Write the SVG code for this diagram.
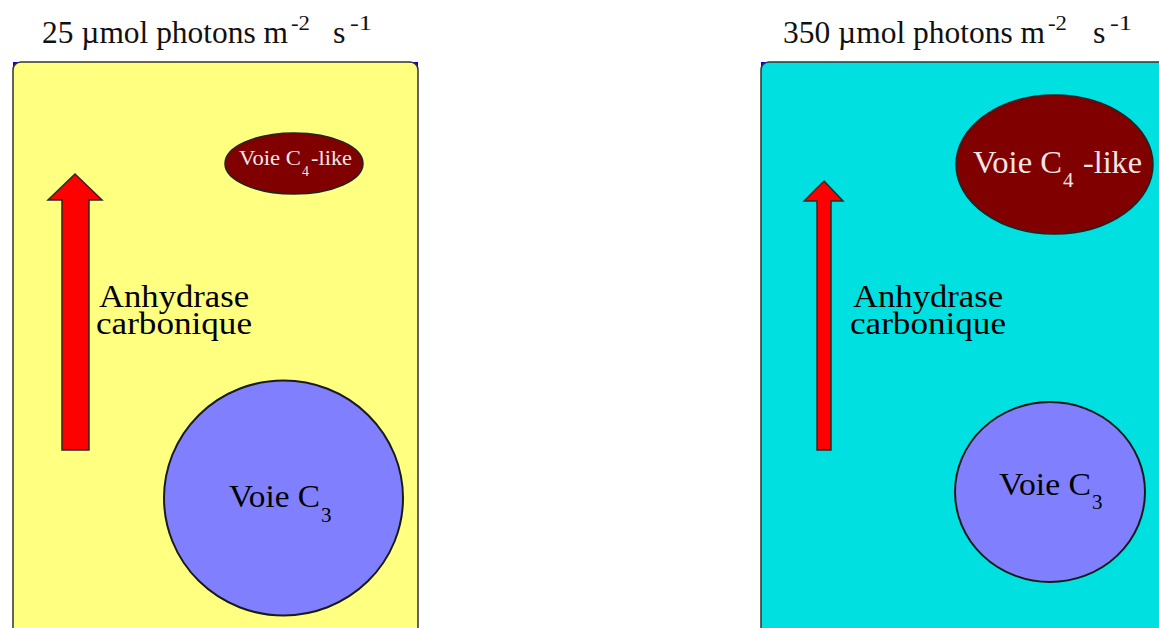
<svg xmlns="http://www.w3.org/2000/svg" width="1159" height="628" viewBox="0 0 1159 628">
<style>
  text { font-family: "Liberation Serif", Tinos, "Times New Roman", "DejaVu Serif", "Noto Serif", FreeSerif, "Nimbus Roman", serif; }
  .title { font-size: 32px; fill: #111; }
  .sup { font-size: 20px; fill: #111; }
  .lbl { font-size: 31px; fill: #000; text-anchor: middle; }
  .c3 { font-size: 32px; fill: #000; }
  .c3s { font-size: 21px; fill: #000; }
  .c4 { fill: #F2E6E6; }
  .panel { stroke: #333; stroke-width: 1.5; }
  .corner { fill: #0000FF; }
  .arrow { fill: #FF0000; stroke: #2a2a2a; stroke-width: 1.5; stroke-linejoin: miter; }
  .c4e { fill: #800000; stroke: #222; stroke-width: 1.5; }
  .c3e { fill: #8080FF; stroke: #1a1a1a; stroke-width: 2; }
</style>
<rect width="1159" height="628" fill="#FFFFFF"/>

<g id="title-left">
  <text class="title" x="42" y="43" textLength="246" lengthAdjust="spacingAndGlyphs">25 µmol photons m</text>
  <text class="sup" x="291" y="30" textLength="19" lengthAdjust="spacingAndGlyphs">-2</text>
  <text class="title" x="333" y="43">s</text>
  <text class="sup" x="350" y="30" textLength="22" lengthAdjust="spacingAndGlyphs">-1</text>
</g>
<g id="title-right">
  <text class="title" x="783" y="43" textLength="262" lengthAdjust="spacingAndGlyphs">350 µmol photons m</text>
  <text class="sup" x="1048" y="30" textLength="19" lengthAdjust="spacingAndGlyphs">-2</text>
  <text class="title" x="1093" y="43">s</text>
  <text class="sup" x="1110" y="30" textLength="22" lengthAdjust="spacingAndGlyphs">-1</text>
</g>

<g id="panel-left">
  <rect class="corner" x="13" y="62" width="405" height="580"/>
  <rect class="panel" x="13" y="62" width="405" height="580" rx="8" ry="8" fill="#FFFF80"/>
</g>
<g id="panel-right">
  <rect class="corner" x="761" y="62" width="420" height="580"/>
  <rect class="panel" x="761" y="62" width="420" height="580" rx="8" ry="8" fill="#00E0E0"/>
</g>

<g id="arrow-left">
  <polygon class="arrow" points="75,174 102,200 89,200 89,450 62,450 62,200 48,200"/>
</g>
<g id="label-left">
  <text class="lbl" x="174" y="307" textLength="150" lengthAdjust="spacingAndGlyphs">Anhydrase</text>
  <text class="lbl" x="174" y="334" textLength="156" lengthAdjust="spacingAndGlyphs">carbonique</text>
</g>
<g id="c4-left">
  <ellipse class="c4e" cx="294" cy="163.5" rx="69" ry="30.5"/>
  <text class="c4" x="239" y="165" font-size="22" textLength="62" lengthAdjust="spacingAndGlyphs">Voie C</text>
  <text class="c4" x="302" y="176" font-size="14">4</text>
  <text class="c4" x="311" y="165" font-size="22" textLength="41" lengthAdjust="spacingAndGlyphs">-like</text>
</g>
<g id="c3-left">
  <ellipse class="c3e" cx="283.5" cy="498" rx="119.5" ry="117.5"/>
  <text class="c3" x="229" y="507" textLength="91" lengthAdjust="spacingAndGlyphs">Voie C</text>
  <text class="c3s" x="321" y="522">3</text>
</g>

<g id="arrow-right">
  <polygon class="arrow" points="824,181 843,201 831,201 831,450 817,450 817,201 804,201"/>
</g>
<g id="label-right">
  <text class="lbl" x="928" y="307" textLength="150" lengthAdjust="spacingAndGlyphs">Anhydrase</text>
  <text class="lbl" x="928" y="334" textLength="156" lengthAdjust="spacingAndGlyphs">carbonique</text>
</g>
<g id="c4-right">
  <ellipse class="c4e" cx="1054.5" cy="164.5" rx="98.5" ry="69.5"/>
  <text class="c4" x="973" y="173" font-size="32" textLength="89" lengthAdjust="spacingAndGlyphs">Voie C</text>
  <text class="c4" x="1063" y="187" font-size="21">4</text>
  <text class="c4" x="1083" y="173" font-size="32" textLength="59" lengthAdjust="spacingAndGlyphs">-like</text>
</g>
<g id="c3-right">
  <ellipse class="c3e" cx="1050" cy="492" rx="95" ry="90"/>
  <text class="c3" x="999" y="495" textLength="92" lengthAdjust="spacingAndGlyphs">Voie C</text>
  <text class="c3s" x="1092" y="509">3</text>
</g>
</svg>
